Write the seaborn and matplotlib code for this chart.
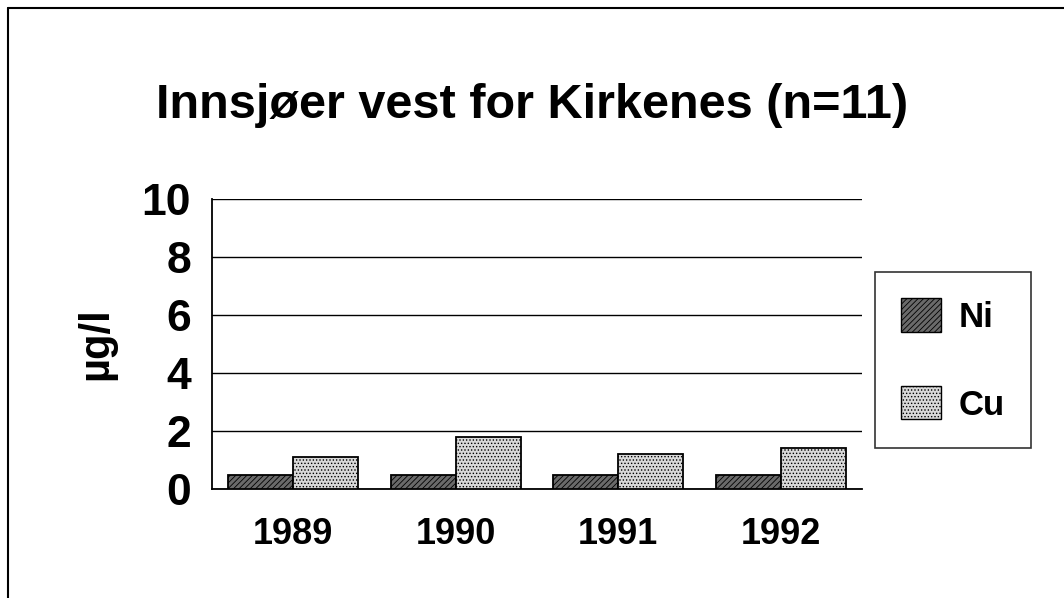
import pandas as pd
import matplotlib.pyplot as plt
import seaborn as sns
from matplotlib.lines import Line2D

# Data
years = ['1989', '1990', '1991', '1992']
ni = [0.5, 0.5, 0.5, 0.5]
cu = [1.1, 1.8, 1.2, 1.4]

df = pd.DataFrame({
    'Year': years * 2,
    'Metal': ['Ni'] * 4 + ['Cu'] * 4,
    'Value': ni + cu,
})

sns.set_style('white')
plt.rcParams['font.family'] = ['Liberation Sans', 'DejaVu Sans']
plt.rcParams['hatch.linewidth'] = 0.6
plt.rcParams['text.color'] = 'black'
plt.rcParams['axes.labelcolor'] = 'black'
plt.rcParams['xtick.color'] = 'black'
plt.rcParams['ytick.color'] = 'black'

fig = plt.figure(figsize=(10.64, 5.98), dpi=100)
ax = fig.add_axes([212 / 1064, 1 - 489 / 598, 650 / 1064, 290 / 598])

sns.barplot(data=df, x='Year', y='Value', hue='Metal', ax=ax,
            palette={'Ni': '#6a6a6a', 'Cu': '#d9d9d9'},
            width=0.8, edgecolor='black', linewidth=1.3, saturation=1,
            legend=False, zorder=3)

hatches = {'Ni': '//////', 'Cu': '.....'}
for cont, name in zip(ax.containers, ['Ni', 'Cu']):
    for p in cont:
        p.set_hatch(hatches[name])

ax.set_ylim(0, 10)
ax.set_xlim(-0.5, 3.5)
ax.set_yticks([0, 2, 4, 6, 8, 10])
ax.yaxis.grid(True, color='black', linewidth=1.0, zorder=0)
ax.set_axisbelow(True)
for s in ['top', 'right']:
    ax.spines[s].set_visible(False)
for s in ['left', 'bottom']:
    ax.spines[s].set_color('black')
    ax.spines[s].set_linewidth(1.3)

ax.tick_params(axis='y', direction='inout', length=10, width=1, labelsize=32, pad=10,
               colors='black')
for lbl in ax.get_yticklabels():
    lbl.set_fontweight('bold')
ax.set_xticks([0, 1, 2, 3])
ax.set_xticklabels(years, fontsize=26, fontweight='bold')
ax.tick_params(axis='x', which='major', length=0, pad=20, colors='black')
ax.set_xticks([-0.5, 0.5, 1.5, 2.5, 3.5], minor=True)
ax.tick_params(axis='x', which='minor', direction='inout', length=10, width=1,
               colors='black')

ax.set_xlabel('')
ax.set_ylabel('µg/l', fontsize=30, fontweight='bold', labelpad=18)

# Legend
handles = [plt.Rectangle((0, 0), 1, 1, facecolor='#6a6a6a', edgecolor='black', hatch='//////'),
           plt.Rectangle((0, 0), 1, 1, facecolor='#d9d9d9', edgecolor='black', hatch='.....')]
leg = fig.legend(handles, ['Ni', 'Cu'], loc='center left',
                 bbox_to_anchor=(875 / 1064, 1 - 360 / 598),
                 prop={'size': 25, 'weight': 'bold'},
                 frameon=True, fancybox=False, edgecolor='black',
                 handlelength=1.15, handleheight=1.1, labelspacing=1.5,
                 borderpad=0.75, handletextpad=0.5, borderaxespad=0)
leg.get_frame().set_linewidth(1.2)

fig.text(532 / 1064, 1 - 105 / 598, 'Innsjøer vest for Kirkenes (n=11)',
         ha='center', va='center', fontsize=35, fontweight='bold')

# outer frame (left and top edges of scanned page)
fig.add_artist(Line2D([8 / 1064, 8 / 1064], [0, 1 - 8 / 598], color='black', lw=1.5,
                      transform=fig.transFigure))
fig.add_artist(Line2D([8 / 1064, 1], [1 - 8 / 598, 1 - 8 / 598], color='black', lw=1.5,
                      transform=fig.transFigure))

fig.savefig('out.png', dpi=100)
